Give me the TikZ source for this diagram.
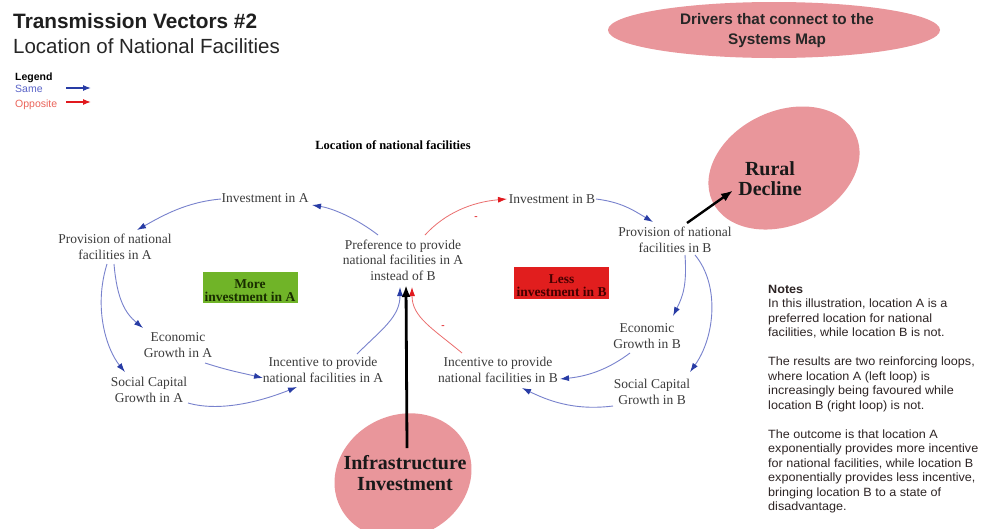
\documentclass[tikz,border=0pt]{standalone}
\usepackage{fontspec}
\setmainfont{Liberation Serif}
\newfontfamily\arial{Liberation Sans}
\newfontfamily\arialw[FakeStretch=1.05]{Liberation Sans}
\usetikzlibrary{arrows.meta,shapes.geometric}
\definecolor{lineblue}{RGB}{120,130,205}
\definecolor{tipblue}{RGB}{40,60,165}
\definecolor{linered}{RGB}{235,110,110}
\definecolor{tipred}{RGB}{225,25,30}
\definecolor{blobpink}{RGB}{233,150,155}
\definecolor{boxgreen}{RGB}{112,180,40}
\definecolor{boxred}{RGB}{225,30,30}
\definecolor{vartext}{RGB}{60,60,60}
\definecolor{notetext}{RGB}{45,36,36}
\definecolor{legblue}{RGB}{90,100,200}
\definecolor{legred}{RGB}{235,100,90}
\tikzset{
  cvar/.style={font=\fontsize{13.5}{15.5}\selectfont, text=vartext, align=center, inner sep=1pt},
  posarrow/.style={draw=lineblue, line width=0.9pt, -{Latex[length=9pt,width=6pt,color=tipblue]}},
  negarrow/.style={draw=linered, line width=0.8pt, -{Latex[length=9pt,width=6pt,color=tipred]}},
  bigarrow/.style={draw=black, line width=2.8pt, -{Latex[length=12pt,width=9pt]}},
  blob/.style={ellipse, fill=blobpink, draw=none, inner sep=0pt},
  bigtxt/.style={font=\bfseries\fontsize{20}{20.5}\selectfont, text=black!90, align=center, inner sep=0pt},
  loopbox/.style={minimum width=95pt, minimum height=31pt, inner sep=0pt, align=center,
     font=\bfseries\fontsize{13.5}{13}\selectfont},
  minus/.style={text=tipred, font=\bfseries\fontsize{10}{10}\selectfont, inner sep=0pt},
}
\begin{document}
\begin{tikzpicture}[x=1pt,y=-1pt]
\useasboundingbox (0,0) rectangle (984,528);
\fill[white] (0,0) rectangle (984,528);

% titles
\node[anchor=base west, inner sep=0pt, font=\arial\bfseries\fontsize{20.8}{24}\selectfont, text=black!88] (title) at (13,28.5) {Transmission Vectors \#2};
\node[anchor=base west, inner sep=0pt, font=\arial\fontsize{20.5}{24}\selectfont, text=black!85] (subtitle) at (13,53.5) {Location of National Facilities};

% legend
\node[anchor=base west, inner sep=0pt, font=\arial\bfseries\fontsize{10.5}{12}\selectfont] (legend) at (15,80) {Legend};
\node[anchor=base west, inner sep=0pt, font=\arial\fontsize{10.5}{12}\selectfont, text=legblue] (same) at (15,92) {Same};
\node[anchor=base west, inner sep=0pt, font=\arial\fontsize{10.5}{12}\selectfont, text=legred] (opposite) at (15,107) {Opposite};
\coordinate (ls1) at (66,88); \coordinate (ls2) at (91,88);
\coordinate (lo1) at (66,102); \coordinate (lo2) at (91,102);
\draw[draw=tipblue, line width=1.2pt, -{Latex[length=8pt,width=6pt]}] (ls1) -- (ls2);
\draw[draw=tipred, line width=1.2pt, -{Latex[length=8pt,width=6pt]}] (lo1) -- (lo2);

% drivers ellipse
\node[blob, minimum width=332pt, minimum height=56pt] (drivers) at (774,30) {};
\node[font=\arial\bfseries\fontsize{15.3}{20.5}\selectfont, text=black!85, align=center, inner sep=0pt] (driverstxt) at (777,30.5) {Drivers that connect to the\\Systems Map};

% map title
\node[font=\bfseries\fontsize{12.5}{14}\selectfont, inner sep=0pt] (maptitle) at (393,145) {Location of national facilities};

% ellipses
\node[blob, minimum width=158pt, minimum height=114pt, rotate=25] (rural) at (784,168) {};
\node[bigtxt] (ruraltxt) at (770,178.5) {Rural\\Decline};
\node[blob, minimum width=140pt, minimum height=122pt, rotate=25] (infra) at (403,476) {};
\node[bigtxt] (infratxt) at (405,473) {Infrastructure\\Investment};

% variables
\node[cvar] (invA) at (265,198) {Investment in A};
\node[cvar] (provA) at (115,247) {Provision of national\\facilities in A};
\node[cvar] (pref) at (403,260) {Preference to provide\\national facilities in A\\instead of B};
\node[cvar] (econA) at (178,345) {Economic\\Growth in A};
\node[cvar] (socA) at (149,390) {Social Capital\\Growth in A};
\node[cvar] (incA) at (323,370) {Incentive to provide\\national facilities in A};
\node[cvar] (invB) at (552,199) {Investment in B};
\node[cvar] (provB) at (675,240) {Provision of national\\facilities in B};
\node[cvar] (econB) at (647,336) {Economic\\Growth in B};
\node[cvar] (socB) at (652,392) {Social Capital\\Growth in B};
\node[cvar] (incB) at (498,370) {Incentive to provide\\national facilities in B};

% loop boxes
\node[loopbox, fill=boxgreen, text={rgb,255:red,25;green,45;blue,0}] (more) at (250,287.5) {\rule{0pt}{15.5pt}More\\investment in A};
\node[loopbox, fill=boxred, text={rgb,255:red,70;green,0;blue,0}, minimum height=32pt] (less) at (561.5,283) {\rule{0pt}{14.5pt}Less\\investment in B};

% left loop
\draw[posarrow] ([shift={(-25,-25)}]pref.center) .. controls +(-18,-14) and +(24,4) .. ([shift={(47,7)}]invA.center);
\draw[posarrow] ([shift={(-44,1)}]invA.center) .. controls +(-35,3) and +(25,-14) .. ([shift={(22,-17)}]provA.center);
\draw[posarrow] ([shift={(-1,17)}]provA.center) .. controls +(3,35) and +(-18,-15) .. ([shift={(-35,-17)}]econA.center);
\draw[posarrow] ([shift={(-8,17)}]provA.center) .. controls +(-14,45) and +(-18,-22) .. ([shift={(-24,-18)}]socA.center);
\draw[posarrow] ([shift={(27,18)}]econA.center) .. controls +(25,8) and +(-25,-6) .. ([shift={(-60,8)}]incA.center);
\draw[posarrow] ([shift={(39,13)}]socA.center) .. controls +(35,10) and +(-30,12) .. ([shift={(-26,17)}]incA.center);
\draw[posarrow] ([shift={(34,-16)}]incA.center) .. controls +(25,-25) and +(0,30) .. ([shift={(-3,27)}]pref.center);

% right loop
\draw[negarrow] ([shift={(22,-25)}]pref.center) .. controls +(20,-22) and +(-35,3) .. ([shift={(-45,0)}]invB.center);
\node[minus] (m1) at (476,218) {-};
\draw[posarrow] ([shift={(44,0)}]invB.center) .. controls +(25,3) and +(-20,-12) .. ([shift={(-22,-18)}]provB.center);
\draw[posarrow] ([shift={(10,15)}]provB.center) .. controls +(2,30) and +(10,-20) .. ([shift={(26,-20)}]econB.center);
\draw[posarrow] ([shift={(20,15)}]provB.center) .. controls +(25,30) and +(25,-35) .. ([shift={(38,-20)}]socB.center);
\draw[posarrow] ([shift={(-17,17)}]econB.center) .. controls +(-20,15) and +(30,-3) .. ([shift={(62,9)}]incB.center);
\draw[posarrow] ([shift={(-39,14)}]socB.center) .. controls +(-40,5) and +(25,12) .. ([shift={(24,18)}]incB.center);
\draw[negarrow] ([shift={(-36,-17)}]incB.center) .. controls +(-30,-25) and +(0,30) .. ([shift={(9,27)}]pref.center);
\node[minus] (m2) at (443,327) {-};

% drivers
\draw[bigarrow] ([shift={(2,-25)}]infratxt.center) -- ([shift={(3,25)}]pref.center);
\draw[bigarrow, line width=2.4pt] ([shift={(12,-17)}]provB.center) -- ([shift={(-37,12)}]ruraltxt.center);

% notes
\node[anchor=north west, inner sep=0pt, align=left, text=notetext, font=\arialw\fontsize{12}{14.5}\selectfont] (notes) at (768,285) {%
\textbf{Notes}\\
In this illustration, location A is a\\
preferred location for national\\
facilities, while location B is not.\\[14.5pt]
The results are two reinforcing loops,\\
where location A (left loop) is\\
increasingly being favoured while\\
location B (right loop) is not.\\[14.5pt]
The outcome is that location A\\
exponentially provides more incentive\\
for national facilities, while location B\\
exponentially provides less incentive,\\
bringing location B to a state of\\
disadvantage.};
\end{tikzpicture}
\end{document}
